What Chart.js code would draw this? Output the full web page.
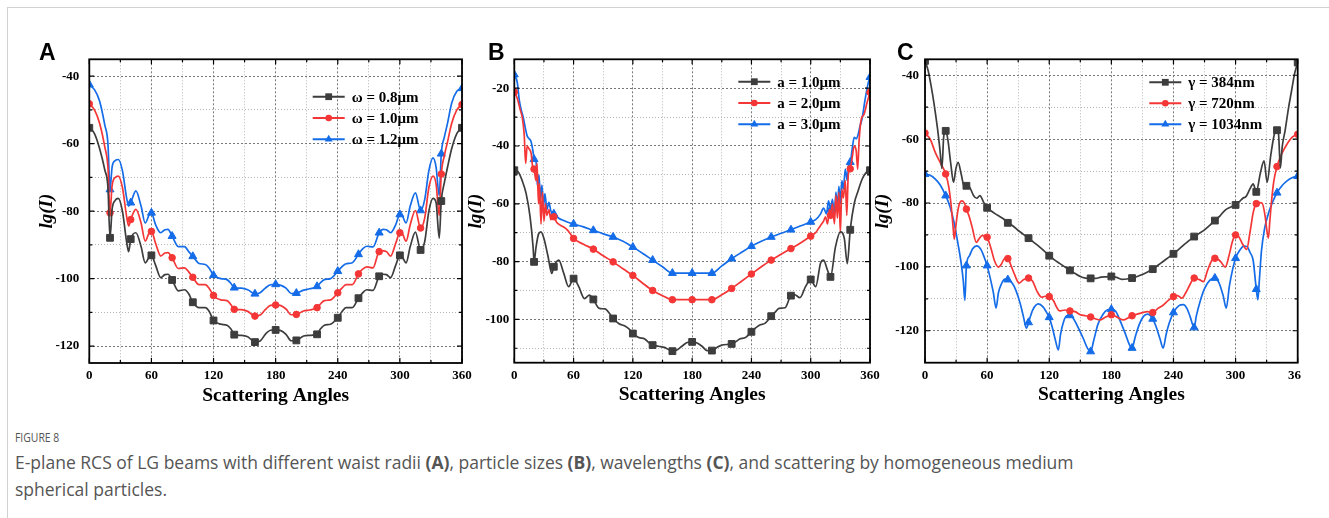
<!DOCTYPE html>
<html>
<head>
<meta charset="utf-8">
<script src="https://cdn.jsdelivr.net/npm/chart.js@4.4.0/dist/chart.umd.min.js"></script>
<style>
  html, body { margin: 0; padding: 0; background: #fff; }
  body { width: 1329px; height: 518px; position: relative; overflow: hidden; }
  .frame { position: absolute; left: 7px; top: 7px; right: -2px; bottom: -2px;
           border-top: 1px solid #d2d2d2; border-left: 1px solid #d2d2d2; }
  .wrap { position: absolute; overflow: hidden; }
  .wrap canvas { position: absolute; left: 0; top: 0; }
  .letter { position: absolute; font: bold 23px "Liberation Sans", Arial, sans-serif; line-height: 1; color: #000; }
  .figno { position: absolute; left: 15px; top: 428px; font: 13px/18px "Open Sans", sans-serif; color: #555;
           transform: scaleX(0.8); transform-origin: left top; }
  .caption { position: absolute; left: 15px; top: 449px; font: 17.5px/27px "Open Sans", sans-serif; color: #555; white-space: nowrap; }
</style>
</head>
<body>
<div class="frame"></div>

<div class="wrap" id="wA"><canvas id="chartA"></canvas></div>
<div class="wrap" id="wB"><canvas id="chartB"></canvas></div>
<div class="wrap" id="wC"><canvas id="chartC"></canvas></div>

<div class="letter" style="left:39px; top:41px;">A</div>
<div class="letter" style="left:488px; top:41px;">B</div>
<div class="letter" style="left:897px; top:41px;">C</div>

<div class="figno">FIGURE 8</div>
<div class="caption">E-plane RCS of LG beams with different waist radii <b>(A)</b>, particle sizes <b>(B)</b>, wavelengths <b>(C)</b>, and scattering by homogeneous medium<br>spherical particles.</div>

<script>
// ---------- data ----------
const xTicks = [0, 30, 60, 90, 120, 150, 180, 210, 240, 270, 300, 330, 360];
const yTicksA = [-120, -110, -100, -90, -80, -70, -60, -50, -40];
const yTicksB = [-110, -100, -90, -80, -70, -60, -50, -40, -30, -20];
const yTicksC = [-120, -110, -100, -90, -80, -70, -60, -50, -40];

// panel A : waist radius
const angA = [0,5,10,15,18,20,22,25,28,32,
  36,38,40,45,50,54,58,60,64,69,
  73,76,80,86,92,96,100,106,112,116,
  120,127,133,137,140,147,153,160,165,170,
  175,180,185,190,195,200,207,213,220,223,
  227,233,240,244,248,254,260,264,268,274,
  280,284,287,291,296,300,302,306,310,315,
  320,324,328,332,335,338,340,343,346,350,
  355,360];
const aW08 = [-55.3,-57.0,-61.5,-67.8,-73.0,-87.9,-79.5,-76.8,-76.2,-80.0,
  -89.0,-92.0,-88.3,-86.4,-90.5,-95.3,-93.5,-93.1,-96.0,-99.7,
  -98.8,-98.7,-100.4,-103.6,-103.3,-104.5,-107.0,-108.6,-108.6,-109.8,
  -112.4,-113.5,-113.8,-115.0,-116.6,-116.8,-117.2,-118.8,-118.5,-116.5,
  -115.3,-115.2,-115.4,-116.5,-118.4,-118.3,-117.0,-116.8,-116.5,-115.0,
  -113.8,-113.5,-111.6,-109.8,-108.6,-108.6,-105.8,-104.2,-103.3,-103.5,
  -99.3,-98.7,-98.8,-99.7,-96.0,-93.1,-93.4,-95.3,-90.5,-86.2,
  -91.5,-89.0,-80.0,-76.2,-77.5,-88.0,-77.0,-71.5,-67.0,-61.5,
  -57.0,-55.3];
const aW10 = [-48.2,-50.0,-54.0,-61.0,-67.0,-80.5,-72.5,-70.0,-69.6,-73.0,
  -81.5,-84.4,-82.5,-79.5,-83.5,-88.9,-86.3,-86.0,-89.5,-93.3,
  -92.4,-92.3,-93.8,-97.0,-96.8,-98.0,-99.6,-101.8,-101.8,-103.0,
  -105.0,-106.3,-106.5,-107.8,-109.1,-109.2,-109.7,-111.1,-110.8,-109.2,
  -107.9,-107.8,-108.0,-109.0,-110.7,-110.6,-109.6,-109.3,-108.6,-107.6,
  -106.5,-106.3,-104.2,-102.8,-101.8,-101.8,-98.6,-97.2,-96.5,-96.8,
  -92.0,-91.8,-92.0,-93.3,-89.5,-86.4,-86.5,-88.9,-84.0,-79.8,
  -85.0,-82.0,-73.0,-69.6,-72.0,-81.3,-69.0,-63.5,-59.5,-54.0,
  -50.0,-48.4];
const aW12 = [-42.5,-44.0,-47.4,-54.5,-60.0,-73.6,-67.0,-65.0,-64.7,-68.0,
  -76.0,-78.5,-77.5,-74.0,-78.5,-83.5,-81.0,-80.5,-84.0,-86.4,
  -85.5,-85.4,-87.4,-90.5,-90.5,-92.0,-93.4,-95.5,-95.8,-97.0,
  -99.0,-100.0,-100.3,-101.5,-102.7,-102.8,-103.3,-104.5,-104.2,-102.8,
  -101.8,-101.7,-102.0,-102.8,-104.4,-104.3,-103.4,-103.0,-102.3,-101.3,
  -100.3,-100.0,-97.8,-96.5,-95.6,-95.3,-92.8,-91.2,-90.4,-90.6,
  -86.4,-85.4,-85.5,-86.4,-84.0,-81.0,-81.2,-83.5,-78.5,-74.6,
  -79.8,-76.5,-68.0,-64.2,-67.0,-75.4,-63.0,-58.0,-54.0,-48.0,
  -44.5,-43.6];

// panel B : particle size
const angB1 = [0,4,8,12,16,19,20,22,24.5,27,
  30,34,38,40,45,50,55,60,65,71,
  76,80,86,92,96,100,106,112,116,120,
  126,132,136,140,146,152,160,165,170,175,
  180,185,190,195,200,205,210,220,224,228,
  234,240,244,248,254,260,264,268,274,280,
  284,289,295,300,305,310,313,317,320,325,
  330,334,337,340,344,348,352,356,360];
const bA1 = [-48.4,-49.0,-52.0,-56.5,-64.6,-74.9,-80.1,-75.0,-70.5,-69.7,
  -72.0,-78.0,-84.1,-81.8,-79.5,-84.0,-88.7,-85.9,-88.5,-92.8,
  -91.6,-93.1,-96.2,-96.4,-97.8,-99.7,-101.5,-102.3,-103.3,-104.9,
  -106.3,-106.8,-108.0,-108.9,-109.3,-109.7,-111.0,-110.5,-109.2,-108.0,
  -107.8,-108.2,-109.3,-110.8,-110.8,-109.7,-108.9,-108.5,-107.8,-106.8,
  -106.3,-104.3,-103.0,-102.0,-101.3,-98.9,-97.5,-96.2,-96.0,-91.8,
  -91.5,-92.5,-88.5,-86.2,-88.7,-80.5,-79.5,-83.0,-85.3,-75.0,
  -69.7,-72.0,-80.7,-69.0,-60.0,-55.5,-51.5,-49.2,-48.4];
const angB2 = [0,3,6,8,10,11.5,13,15,17,18.5,
  20,22,23,24.5,25.5,27,28.5,30,31.5,33,
  35,37,40,43,47,52,56,60,70,80,
  90,100,110,120,130,140,150,160,170,180,
  190,200,210,220,230,240,250,260,270,280,
  290,300,305,308,310,313,315,317,319,320,
  322,324,325.5,327,328.5,330,331.5,333,335,336.5,
  338,340,342,344,346,347.5,349,351,354,357,
  360];
const bA2 = [-21.3,-23.5,-27.5,-30.0,-36.0,-46.0,-40.0,-41.0,-42.5,-47.0,
  -48.0,-52.0,-46.0,-60.0,-53.0,-67.0,-56.0,-66.0,-60.0,-64.0,
  -62.0,-65.5,-64.5,-66.5,-67.5,-68.5,-70.0,-72.0,-74.0,-75.7,
  -78.0,-80.1,-82.5,-84.8,-87.5,-90.0,-91.8,-93.2,-93.2,-93.2,
  -93.2,-93.2,-91.5,-89.3,-86.8,-84.3,-81.8,-79.5,-77.5,-75.5,
  -73.5,-71.2,-70.0,-68.5,-67.5,-66.0,-64.5,-67.0,-62.0,-64.0,
  -60.0,-67.0,-57.0,-65.0,-56.0,-70.0,-55.0,-58.0,-52.0,-64.0,
  -50.0,-47.9,-44.0,-40.0,-41.5,-48.0,-38.0,-31.0,-29.0,-25.0,
  -21.4];
const angB3 = [0,3,5,7,9,11,13,15,17,19,
  20,22,23.5,25,26.5,28,29.5,31,33,35,
  37,40,45,50,55,60,70,80,90,100,
  110,120,130,140,150,160,170,180,190,200,
  210,220,230,240,250,260,270,280,290,300,
  305,310,313,316,318,320,322,324,325.5,327,
  328.5,330,331.5,333,335,337,338.5,340,342,344,
  346,348,350,352,355,358,360];
const bA3 = [-15.3,-18.0,-24.0,-27.5,-30.0,-33.5,-36.5,-37.5,-38.5,-42.0,
  -44.6,-45.5,-54.0,-50.0,-58.5,-53.5,-61.0,-56.5,-62.0,-59.5,
  -62.5,-63.5,-65.0,-65.8,-66.5,-67.0,-68.0,-69.2,-70.4,-71.5,
  -73.0,-75.0,-77.2,-79.5,-81.8,-84.0,-84.0,-84.0,-84.0,-84.0,
  -81.5,-79.0,-76.8,-74.7,-73.0,-71.5,-70.2,-69.0,-67.6,-66.3,
  -65.5,-63.5,-61.5,-63.5,-59.0,-62.0,-58.5,-64.0,-56.0,-62.0,
  -54.0,-60.0,-52.0,-55.0,-48.0,-52.0,-46.0,-45.6,-41.0,-37.0,
  -37.5,-36.0,-33.0,-30.5,-24.0,-18.5,-16.2];

// panel C : wavelength
const angC384 = [0,3,6,9,12,14.5,16.3,18,19,20,
  22,25,27.5,30,32,35,38,40,43,47,
  50,53,57,60,64,68,72,76,80,85,
  90,95,100,105,110,115,120,125,130,135,
  140,145,150,155,160,165,170,175,180,185,
  190,195,200,205,210,215,220,225,230,235,
  240,245,250,255,260,265,270,275,280,285,
  290,295,300,304,307,310,314,317,320,324,
  327.5,330.5,334,338,340,341.5,343.3,345,348,351,
  354,357,360];
const cG384 = [-35.5,-38.5,-43.5,-49.5,-56.5,-63.5,-69.2,-59.5,-57.6,-57.4,
  -60.0,-68.0,-73.5,-69.0,-67.3,-71.0,-75.0,-74.6,-75.0,-77.7,
  -78.5,-77.7,-80.0,-81.5,-82.5,-83.4,-84.2,-85.0,-86.2,-87.2,
  -88.6,-89.8,-91.0,-92.3,-93.6,-95.0,-96.5,-97.8,-98.9,-100.0,
  -101.1,-102.1,-103.0,-103.5,-103.6,-103.6,-103.2,-103.1,-103.0,-103.3,
  -103.9,-103.8,-103.5,-103.0,-102.4,-101.6,-100.7,-99.5,-98.3,-97.1,
  -95.9,-94.5,-93.1,-91.8,-90.5,-89.5,-88.4,-87.0,-85.5,-84.0,
  -82.2,-81.3,-80.6,-79.5,-78.5,-78.0,-75.5,-74.0,-76.5,-70.5,
  -66.8,-73.5,-65.0,-57.8,-57.2,-58.5,-69.0,-62.5,-57.0,-50.5,
  -45.0,-39.5,-36.0];
const angC720 = [0,5,10,15,20,23,25,27,28.3,29.5,
  31,33,35.7,38,40,43,45.5,49.6,52,55,
  58,60,64,67,71,74,77,80,83,86,
  91,95,100,104,108,112.7,116,120,124,127,
  130,135,140,145,150,155,160,165,169,174,
  180,186,191.6,196,200,205,210,215,220,225,
  230,235,240,244,248,252,256,260,265,269,
  273,277,280,283,286,290,294,297,300,303,
  307,310.7,314,317,320,323,325.5,328.5,330,331.7,
  333,335,337,340,344,349,355,360];
const cG720 = [-58.1,-60.0,-64.2,-67.5,-70.9,-75.0,-80.0,-87.0,-91.3,-88.0,
  -84.0,-80.5,-79.3,-80.0,-81.9,-84.5,-87.5,-92.3,-91.3,-90.2,
  -90.2,-90.7,-94.5,-98.0,-100.1,-99.0,-97.3,-97.4,-99.5,-102.0,
  -105.1,-104.0,-103.5,-104.5,-107.5,-109.5,-109.2,-109.3,-110.5,-112.5,
  -113.8,-113.5,-113.8,-114.0,-115.0,-115.3,-115.7,-116.3,-116.6,-115.8,
  -115.0,-115.8,-116.6,-116.0,-115.3,-114.8,-114.3,-114.0,-114.3,-113.0,
  -112.0,-110.5,-109.3,-109.0,-109.8,-108.0,-105.5,-103.5,-104.0,-104.6,
  -101.0,-98.0,-97.3,-97.6,-98.5,-100.1,-96.0,-92.0,-90.0,-90.5,
  -93.0,-94.5,-89.0,-83.0,-80.2,-79.9,-80.0,-84.0,-88.0,-91.0,
  -86.0,-78.5,-73.0,-68.6,-65.0,-61.9,-59.3,-58.5];
const angC1034 = [0,5,10,15,20,24,28,32,35,37,
  38.5,40,43,46,50,54,57,60,63,66,
  68.6,71,74,77,80,84,88,92,95,98,
  100,104,109.5,114,117,120,123,126,128.8,131,
  134,137,140,143,148,153,157,160,163,167,
  172,176,180,184,188,193,197,200,203,207,
  211,215,220,223,227,230,233,236,240,245,
  249.5,253,256,260,262,266,270,275,280,284,
  288,291,294,297,300,304,308,311,314,317,
  320,321.5,323,325,328,332,336,340,345,350,
  355,360];
const cG1034 = [-71.0,-71.3,-72.5,-74.5,-77.7,-81.0,-86.0,-93.0,-99.0,-104.5,
  -110.5,-99.6,-96.5,-94.3,-93.4,-94.5,-96.8,-99.6,-103.5,-108.0,
  -112.9,-108.0,-105.2,-103.8,-104.0,-105.0,-107.5,-111.5,-115.5,-119.2,
  -117.4,-113.5,-111.6,-112.5,-114.0,-115.8,-119.0,-123.0,-126.0,-121.0,
  -117.0,-115.3,-115.2,-116.0,-119.0,-122.5,-125.5,-126.5,-123.0,-118.0,
  -114.8,-113.5,-113.3,-113.8,-116.5,-120.5,-124.0,-125.4,-122.0,-118.0,
  -115.5,-114.8,-116.3,-118.5,-122.5,-125.4,-121.0,-117.5,-114.3,-112.2,
  -111.8,-113.0,-115.5,-119.0,-115.5,-110.5,-106.8,-104.2,-103.5,-105.0,
  -109.0,-112.9,-106.0,-101.0,-97.3,-94.8,-93.5,-93.6,-95.5,-98.0,
  -107.0,-110.3,-104.0,-95.0,-88.0,-83.0,-79.5,-76.8,-74.5,-73.0,
  -72.0,-71.6];

// ---------- style ----------
const SERIF = '"Liberation Serif", "Times New Roman", serif';
const BLACK = '#3d3d3d', RED = '#f53636', BLUE = '#146ce8';
const GRID_MAJOR = '#777777', GRID_MINOR = '#b5b5b5';

Chart.defaults.font.family = SERIF;
Chart.defaults.color = '#000';

function series(label, xs, ys, color, style, r) {
    return {
        label: label,
        data: xs.map((x, i) => ({x: x, y: ys[i]})),
        borderColor: color,
        backgroundColor: color,
        borderWidth: 1.7,
        pointStyle: style,
        pointBorderWidth: 1,
        pointRadius: c => (c.raw && c.raw.x % 20 === 0) ? r : 0,
        pointHoverRadius: 0,
        cubicInterpolationMode: 'monotone',
        legendRadius: r
    };
}

function marker(ctx, style, x, y, r) {
    ctx.beginPath();
    if (style === 'rect') {
        const s = r * Math.SQRT1_2;
        ctx.rect(x - s, y - s, 2 * s, 2 * s);
    } else if (style === 'triangle') {
        ctx.moveTo(x, y - r);
        ctx.lineTo(x + r * 0.866, y + r * 0.5);
        ctx.lineTo(x - r * 0.866, y + r * 0.5);
        ctx.closePath();
    } else {
        ctx.arc(x, y, r, 0, Math.PI * 2);
    }
    ctx.fill();
}

// box frame with inward ticks on all four sides
const framePlugin = {
    id: 'frame',
    afterDraw(chart) {
        const {ctx, chartArea, scales} = chart;
        const {left, right, top, bottom} = chartArea;
        ctx.save();
        ctx.strokeStyle = '#000';
        ctx.lineWidth = 1.2;
        ctx.beginPath();
        scales.x.ticks.forEach(t => {
            const px = scales.x.getPixelForValue(t.value);
            const len = t.value % 60 === 0 ? 5 : 3;
            ctx.moveTo(px, bottom); ctx.lineTo(px, bottom - len);
            ctx.moveTo(px, top); ctx.lineTo(px, top + len);
        });
        scales.y.ticks.forEach(t => {
            const py = scales.y.getPixelForValue(t.value);
            const len = t.value % 20 === 0 ? 5 : 3;
            ctx.moveTo(left, py); ctx.lineTo(left + len, py);
            ctx.moveTo(right, py); ctx.lineTo(right - len, py);
        });
        ctx.stroke();
        ctx.lineWidth = 1.8;
        ctx.strokeRect(left, top, right - left, bottom - top);
        ctx.restore();
    }
};

// legend drawn inside the plot, top right
const legendPlugin = {
    id: 'insideLegend',
    afterDraw(chart, args, opts) {
        const {ctx, chartArea} = chart;
        const x0 = chartArea.right - opts.dx;
        ctx.save();
        ctx.font = 'bold 15px ' + SERIF;
        ctx.textBaseline = 'middle';
        ctx.textAlign = 'left';
        chart.data.datasets.forEach((ds, i) => {
            const y = chartArea.top + opts.dy + i * opts.gap;
            ctx.strokeStyle = ds.borderColor;
            ctx.fillStyle = ds.borderColor;
            ctx.lineWidth = 2;
            ctx.beginPath();
            ctx.moveTo(x0, y);
            ctx.lineTo(x0 + 32, y);
            ctx.stroke();
            marker(ctx, ds.pointStyle, x0 + 16, y, ds.legendRadius);
            ctx.fillStyle = '#000';
            ctx.fillText(ds.label, x0 + 39, y + 1);
        });
        ctx.restore();
    }
};

function makePanel(id, box, datasets, yMin, yMax, yTicks, legend) {
    const wrap = document.getElementById('w' + id);
    wrap.style.left = box.cx + 'px';
    wrap.style.top = box.cy + 'px';
    wrap.style.width = (box.clip || box.cw) + 'px';
    wrap.style.height = box.ch + 'px';
    const canvas = document.getElementById('chart' + id);
    canvas.width = box.cw;
    canvas.height = box.ch;

    return new Chart(canvas.getContext('2d'), {
        type: 'line',
        data: {datasets: datasets},
        plugins: [framePlugin, legendPlugin],
        options: {
            responsive: false,
            animation: false,
            events: [],
            layout: {
                padding: {
                    left: box.L - box.yw - box.cx,
                    top: box.T - box.cy,
                    right: box.cx + box.cw - box.R,
                    bottom: box.cy + box.ch - box.B - box.xh
                }
            },
            plugins: {
                legend: {display: false},
                tooltip: {enabled: false},
                insideLegend: legend
            },
            scales: {
                x: {
                    type: 'linear',
                    min: 0,
                    max: 360,
                    afterBuildTicks: s => { s.ticks = xTicks.map(v => ({value: v})); },
                    afterFit: s => { s.height = box.xh; s.paddingLeft = 0; s.paddingRight = 0; },
                    ticks: {
                        autoSkip: false,
                        maxRotation: 0,
                        padding: 5,
                        font: {size: 13, weight: 'bold'},
                        callback: v => v % 60 === 0 ? v : ''
                    },
                    grid: {
                        drawTicks: false,
                        lineWidth: 1,
                        color: c => c.tick && c.tick.value % 60 === 0 ? GRID_MAJOR : GRID_MINOR
                    },
                    border: {
                        display: false,
                        dash: c => c.tick && c.tick.value % 60 === 0 ? [2, 2] : [1, 2]
                    },
                    title: {
                        display: true,
                        text: 'Scattering Angles',
                        padding: 0,
                        font: {size: 19.5, weight: 'bold'}
                    }
                },
                y: {
                    type: 'linear',
                    min: yMin,
                    max: yMax,
                    afterBuildTicks: s => { s.ticks = yTicks.map(v => ({value: v})); },
                    afterFit: s => { s.width = box.yw; s.paddingTop = 0; s.paddingBottom = 0; },
                    ticks: {
                        autoSkip: false,
                        padding: box.yPad,
                        font: {size: 13, weight: 'bold'},
                        callback: v => v % 20 === 0 ? v : ''
                    },
                    grid: {
                        drawTicks: false,
                        lineWidth: 1,
                        color: c => c.tick && c.tick.value % 20 === 0 ? GRID_MAJOR : GRID_MINOR
                    },
                    border: {
                        display: false,
                        dash: c => c.tick && c.tick.value % 20 === 0 ? [2, 2] : [1, 2]
                    },
                    title: {
                        display: true,
                        text: 'lg(I)',
                        padding: 0,
                        font: {size: 19, weight: 'bold', style: 'italic'}
                    }
                }
            }
        }
    });
}

const chartA = makePanel('A',
    {cx: 20, cy: 30, cw: 460, ch: 385, L: 89.3, T: 59.3, R: 462, B: 363, yw: 53.2, xh: 45, yPad: 10},
    [
        series('ω = 0.8μm', angA, aW08, BLACK, 'rect', 4.8),
        series('ω = 1.0μm', angA, aW10, RED, 'circle', 3.3),
        series('ω = 1.2μm', angA, aW12, BLUE, 'triangle', 4.6)
    ],
    -125, -35, yTicksA, {dx: 149.3, dy: 37.4, gap: 21.3});

const chartB = makePanel('B',
    {cx: 455, cy: 30, cw: 440, ch: 385, L: 514.3, T: 59.3, R: 870, B: 362.7, yw: 49.7, xh: 44, yPad: 5},
    [
        series('a = 1.0μm', angB1, bA1, BLACK, 'rect', 4.8),
        series('a = 2.0μm', angB2, bA2, RED, 'circle', 3.3),
        series('a = 3.0μm', angB3, bA3, BLUE, 'triangle', 4.6)
    ],
    -115, -10, yTicksB, {dx: 131.7, dy: 22.4, gap: 21.3});

const chartC = makePanel('C',
    {cx: 865, cy: 30, cw: 460, clip: 436, ch: 385, L: 925, T: 59.3, R: 1297.7, B: 362.7, yw: 53.4, xh: 44, yPad: 6},
    [
        series('γ = 384nm', angC384, cG384, BLACK, 'rect', 4.8),
        series('γ = 720nm', angC720, cG720, RED, 'circle', 3.3),
        series('γ = 1034nm', angC1034, cG1034, BLUE, 'triangle', 4.6)
    ],
    -130, -35, yTicksC, {dx: 148.4, dy: 23, gap: 21});
</script>
</body>
</html>
